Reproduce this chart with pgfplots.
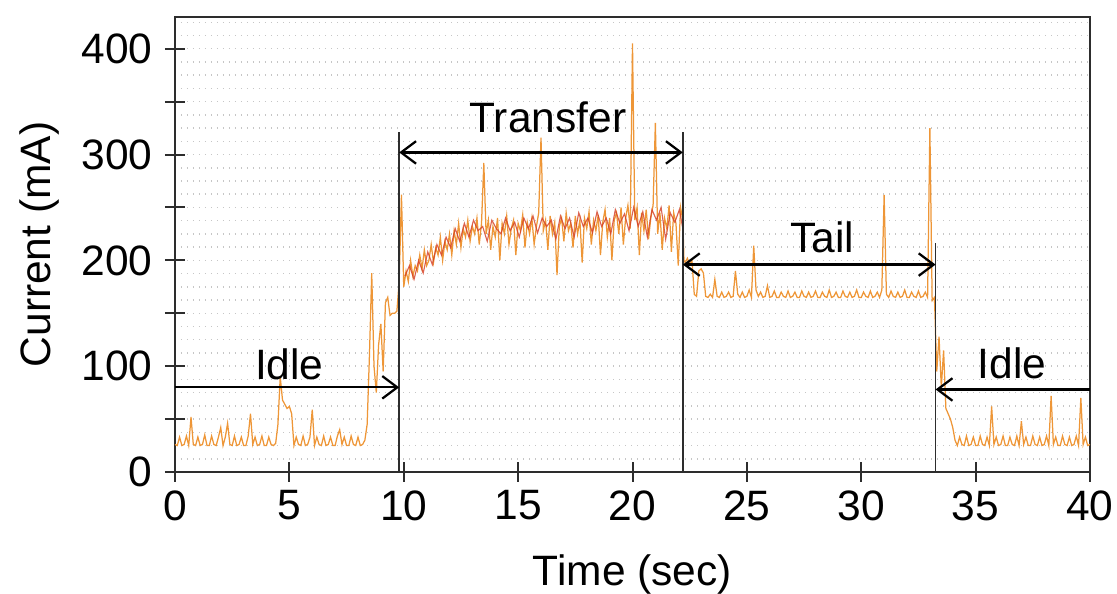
\documentclass[border=0pt]{standalone}
\usepackage{pgfplots}
\pgfplotsset{compat=1.18}
\usepackage{pgfplotstable}
\usepackage{fontspec}
\setmainfont{Liberation Sans}
\usetikzlibrary{arrows.meta}
\definecolor{tr1}{RGB}{238,150,55}
\definecolor{tr2}{RGB}{212,60,35}
\definecolor{axc}{RGB}{45,45,45}

\pgfplotstableread{
x y
0.0 26
0.1 25
0.2 33
0.3 25
0.4 26
0.5 34
0.6 25
0.7 52
0.8 26
0.9 25
1.0 33
1.1 25
1.2 26
1.3 35
1.4 25
1.5 25
1.6 34
1.7 26
1.8 25
1.9 33
2.0 42
2.1 25
2.2 33
2.3 46
2.4 26
2.5 25
2.6 34
2.7 25
2.8 26
2.9 33
3.0 25
3.1 25
3.2 34
3.3 55
3.4 26
3.5 33
3.6 25
3.7 26
3.8 34
3.9 25
4.0 25
4.1 33
4.2 26
4.3 25
4.4 27
4.5 45
4.6 90
4.7 68
4.8 64
4.9 60
5.0 62
5.1 55
5.2 25
5.3 33
5.4 26
5.5 25
5.6 34
5.7 25
5.8 26
5.9 33
6.0 59
6.1 25
6.2 33
6.3 26
6.4 25
6.5 34
6.6 25
6.7 26
6.8 33
6.9 25
7.0 25
7.1 34
7.2 40
7.3 26
7.4 33
7.5 25
7.6 25
7.7 34
7.8 26
7.9 25
8.0 33
8.1 25
8.2 26
8.3 30
8.4 45
8.5 110
8.6 188
8.7 100
8.8 75
8.9 120
9.0 140
9.1 95
9.2 160
9.3 165
9.4 148
9.5 150
9.6 150
9.7 152
9.8 180
9.9 262
10.0 175
10.1 190
10.2 180
10.3 200
10.4 185
10.5 195
10.6 190
10.7 205
10.8 192
10.9 210
11.0 195
11.1 200
11.2 215
11.3 198
11.4 212
11.5 205
11.6 222
11.7 200
11.8 218
11.9 210
12.0 225
12.1 205
12.2 228
12.3 215
12.4 235
12.5 212
12.6 230
12.7 222
12.8 238
12.9 218
13.0 232
13.1 225
13.2 240
13.3 215
13.4 235
13.5 292
13.6 225
13.7 238
13.8 210
13.9 232
14.0 222
14.1 240
14.2 200
14.3 235
14.4 225
14.5 242
14.6 215
14.7 230
14.8 238
14.9 205
15.0 235
15.1 228
15.2 243
15.3 212
15.4 236
15.5 225
15.6 240
15.7 215
15.8 232
15.9 245
16.0 316
16.1 228
16.2 238
16.3 210
16.4 242
16.5 225
16.6 236
16.7 186
16.8 232
16.9 240
17.0 218
17.1 245
17.2 228
17.3 235
17.4 212
17.5 242
17.6 225
17.7 238
17.8 198
17.9 240
18.0 230
18.1 246
18.2 215
18.3 238
18.4 228
18.5 243
18.6 205
18.7 236
18.8 248
18.9 222
19.0 240
19.1 200
19.2 238
19.3 245
19.4 225
19.5 250
19.6 215
19.7 240
19.8 252
19.9 230
20.0 405
20.1 238
20.2 250
20.3 205
20.4 245
20.5 228
20.6 248
20.7 220
20.8 240
20.9 252
21.0 330
21.1 225
21.2 245
21.3 210
21.4 240
21.5 230
21.6 252
21.7 208
21.8 245
21.9 235
22.0 195
22.1 250
22.2 238
22.25 200
22.3 198
22.4 202
22.5 196
22.6 200
22.7 168
22.8 166
22.9 190
23.0 192
23.1 188
23.2 166
23.3 165
23.4 168
23.5 165
23.6 182
23.7 166
23.8 165
23.9 170
24.0 165
24.1 166
24.2 170
24.3 165
24.4 166
24.5 190
24.6 168
24.7 165
24.8 170
24.9 165
25.0 166
25.1 172
25.2 165
25.3 214
25.4 172
25.5 166
25.6 170
25.7 165
25.8 166
25.9 176
26.0 165
26.1 166
26.2 171
26.3 165
26.4 165
26.5 170
26.6 166
26.7 165
26.8 171
26.9 165
27.0 166
27.1 170
27.2 165
27.3 165
27.4 171
27.5 166
27.6 165
27.7 170
27.8 165
27.9 166
28.0 171
28.1 165
28.2 165
28.3 170
28.4 166
28.5 165
28.6 172
28.7 165
28.8 166
28.9 170
29.0 165
29.1 165
29.2 171
29.3 166
29.4 165
29.5 170
29.6 165
29.7 166
29.8 172
29.9 165
30.0 165
30.1 170
30.2 166
30.3 165
30.4 171
30.5 165
30.6 166
30.7 170
30.8 165
30.9 172
31.0 262
31.1 168
31.2 165
31.3 171
31.4 166
31.5 165
31.6 170
31.7 165
31.8 166
31.9 172
32.0 165
32.1 165
32.2 170
32.3 166
32.4 165
32.5 171
32.6 165
32.7 166
32.8 170
32.9 165
33.0 325
33.1 162
33.2 165
33.3 95
33.4 128
33.5 80
33.6 115
33.7 60
33.8 55
33.9 50
34.0 42
34.1 30
34.2 25
34.3 33
34.4 26
34.5 25
34.6 34
34.7 25
34.8 26
34.9 33
35.0 25
35.1 25
35.2 34
35.3 26
35.4 25
35.5 33
35.6 25
35.7 62
35.8 26
35.9 33
36.0 25
36.1 26
36.2 34
36.3 25
36.4 25
36.5 33
36.6 26
36.7 25
36.8 34
36.9 25
37.0 48
37.1 26
37.2 33
37.3 25
37.4 25
37.5 34
37.6 26
37.7 25
37.8 33
37.9 25
38.0 26
38.1 34
38.2 25
38.3 72
38.4 26
38.5 33
38.6 25
38.7 25
38.8 34
38.9 26
39.0 25
39.1 33
39.2 25
39.3 26
39.4 34
39.5 25
39.6 70
39.7 26
39.8 33
39.9 25
40.0 26
}\traceA

\pgfplotstableread{
x y
10.05 185
10.25 195
10.45 182
10.65 200
10.85 188
11.05 208
11.25 196
11.45 215
11.65 205
11.85 222
12.05 212
12.25 230
12.45 218
12.65 235
12.85 222
13.05 238
13.25 228
13.45 232
13.65 218
13.85 238
14.05 230
14.25 225
14.45 240
14.65 228
14.85 236
15.05 222
15.25 240
15.45 230
15.65 242
15.85 226
16.05 240
16.25 232
16.45 238
16.65 220
16.85 242
17.05 230
17.25 240
17.45 222
17.65 245
17.85 232
18.05 240
18.25 226
18.45 246
18.65 232
18.85 240
19.05 225
19.25 248
19.45 235
19.65 244
19.85 228
20.05 250
20.25 232
20.45 246
20.65 222
20.85 248
21.05 238
21.25 250
21.45 220
21.65 245
21.85 236
22.05 248
22.20 230
}\traceB

\begin{document}
\fontsize{17pt}{20pt}\selectfont
\begin{tikzpicture}
\begin{axis}[
  scale only axis,
  width=366pt, height=182pt,
  xmin=0, xmax=40, ymin=0, ymax=430,
  xtick={0,5,...,40},
  ytick={0,50,...,400},
  yticklabels={0,,100,,200,,300,,400},
  xtick pos=bottom, ytick pos=left,
  minor ytick={12.5,25,...,430},
  yminorgrids=true,
  minor grid style={gray!45, dotted, line width=0.6pt},
  minor tick length=0pt,
  tick align=center,
  major tick length=8pt,
  tick style={axc, line width=0.8pt},
  axis line style={axc, line width=0.9pt},
  every tick label/.append style={font=\fontsize{17pt}{20pt}\selectfont},
  xticklabel style={yshift=2.4pt},
  yticklabel style={xshift=0.8pt},
  label style={font=\fontsize{17pt}{20pt}\selectfont},
  xlabel={Time (sec)},
  ylabel={Current (mA)},
  xlabel style={at={(axis description cs:0.5,0)}, anchor=center, yshift=-41.2pt},
  ylabel style={at={(axis description cs:0,0.5)}, anchor=center, yshift=54pt},
  /pgf/number format/assume math mode=true,
  clip=true,
]
\addplot[tr1, line width=0.5pt] table[x=x,y=y] {\traceA};
\addplot[tr2, line width=0.45pt, opacity=0.8] table[x=x,y=y] {\traceB};

\draw[axc, line width=0.7pt] (axis cs:9.8,0) -- (axis cs:9.8,321);
\draw[axc, line width=0.7pt] (axis cs:22.2,0) -- (axis cs:22.2,321);
\draw[axc, line width=0.7pt] (axis cs:33.25,0) -- (axis cs:33.25,216);

\draw[black, line width=0.9pt, -{Straight Barb[length=6pt,width=9pt]}] (axis cs:0,80) -- (axis cs:9.8,80);
\draw[black, line width=0.9pt, {Straight Barb[length=6pt,width=9pt]}-{Straight Barb[length=6pt,width=9pt]}] (axis cs:9.8,302) -- (axis cs:22.2,302);
\draw[black, line width=0.9pt, {Straight Barb[length=6pt,width=9pt]}-{Straight Barb[length=6pt,width=9pt]}] (axis cs:22.2,196) -- (axis cs:33.25,196);
\draw[black, line width=0.9pt, -{Straight Barb[length=6pt,width=9pt]}] (axis cs:40,78) -- (axis cs:33.25,78);

\node[font=\fontsize{17pt}{20pt}\selectfont] at (axis cs:5.0,102) {Idle};
\node[font=\fontsize{17pt}{20pt}\selectfont] at (axis cs:16.3,335) {Transfer};
\node[font=\fontsize{17pt}{20pt}\selectfont] at (axis cs:28.3,222) {Tail};
\node[font=\fontsize{17pt}{20pt}\selectfont] at (axis cs:36.6,103) {Idle};

\coordinate (SW) at (rel axis cs:0,0);
\coordinate (NE) at (rel axis cs:1,1);
\end{axis}
\pgfresetboundingbox
\path[use as bounding box] ([xshift=-70pt,yshift=-48.8pt]SW) rectangle ([xshift=10.8pt,yshift=6.8pt]NE);
\end{tikzpicture}
\end{document}
